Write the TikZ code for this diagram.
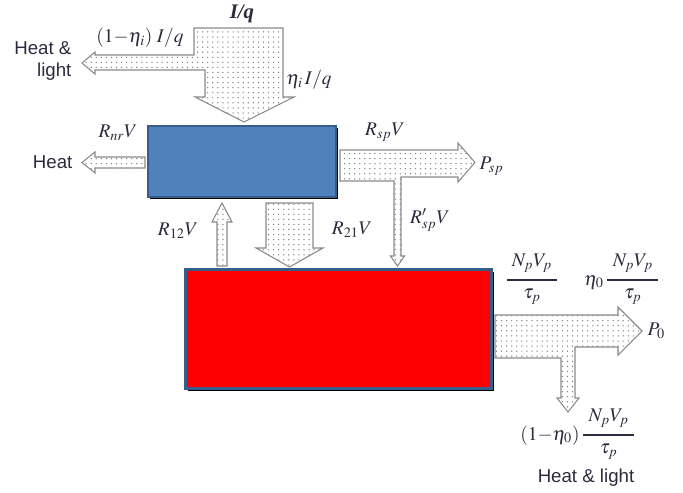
\documentclass[tikz,border=0pt]{standalone}
\usepackage{amsmath}
\usepackage{mathptmx}
\usepackage[no-math]{fontspec}
\setmainfont{Liberation Serif}
\setsansfont{Liberation Sans}
\usetikzlibrary{patterns.meta,shadows}
\definecolor{boxblue}{HTML}{4F81BD}
\definecolor{boxedge}{HTML}{385D8A}
\definecolor{txtcol}{HTML}{2B2B3F}
\definecolor{arrowedge}{HTML}{8A8A8A}
\newcommand{\npfrac}{\genfrac{}{}{1.7pt}{0}{\mkern5mu N_pV_p\mkern5mu}{\tau_p}}
\tikzset{
  lbl/.style={inner sep=1pt, text=txtcol, font=\fontsize{14.5}{16.5}\selectfont},
  sanslbl/.style={inner sep=1pt, text=txtcol, font=\sffamily\fontsize{14}{16.5}\selectfont},
  blockarrow/.style={draw=arrowedge, line width=0.8pt, line join=miter,
    pattern={Dots[radius=0.55pt, distance=3.8pt]}, pattern color=gray},
  bluebox/.style={draw=boxedge, line width=1.3pt, fill=boxblue, anchor=north west, inner sep=0pt,
    drop shadow={shadow xshift=1.8pt, shadow yshift=-1.8pt, opacity=1, fill=black}},
  redbox/.style={draw=boxedge, line width=2.2pt, fill=red, anchor=north west, inner sep=0pt,
    drop shadow={shadow xshift=1.8pt, shadow yshift=-1.8pt, opacity=1, fill=black}}
}
\begin{document}
\begin{tikzpicture}[x=0.75pt, y=-0.75pt]
\useasboundingbox (0,0) rectangle (683,493);
% boxes
\node[bluebox, minimum width=141pt, minimum height=53.25pt] (blue) at (147,125) {};
\node[redbox, minimum width=229.5pt, minimum height=89.25pt] (redb) at (184,268) {};
% block arrows
\draw[blockarrow] (194,28) -- (283,28) -- (283,97) -- (294,97) -- (244,122) -- (195,97) -- (205,97)
  -- (205,70) -- (95,70) -- (95,74) -- (82,63) -- (95,52) -- (95,55) -- (194,55) -- cycle;
\draw[blockarrow] (145,157) -- (95,157) -- (95,152) -- (82,162.5) -- (95,173) -- (95,168) -- (145,168) -- cycle;
\draw[blockarrow] (340,150) -- (458,150) -- (458,143) -- (475,162.5) -- (458,182) -- (458,177) -- (401,177)
  -- (401,256) -- (404.5,256) -- (397.5,266) -- (390.5,256) -- (394,256) -- (394,181) -- (340,181) -- cycle;
\draw[blockarrow] (217,266) -- (217,222) -- (212,222) -- (222,203) -- (232,222) -- (227,222) -- (227,266) -- cycle;
\draw[blockarrow] (266,203) -- (313,203) -- (313,248) -- (323,248) -- (289.5,267) -- (256,248) -- (266,248) -- cycle;
\draw[blockarrow] (495,315) -- (618,315) -- (618,307) -- (642,331) -- (618,355) -- (618,347) -- (575,347)
  -- (575,398) -- (579,398) -- (568,412) -- (557,398) -- (561,398) -- (561,358) -- (495,358) -- cycle;
% labels
\node[lbl] (iq) at (242,14) {\fontsize{15.5}{17}\selectfont\textbf{\textit{I/q}}};
\node[lbl] (loss) at (140,38) {$(1{-}\eta_i)\;I/q$};
\node[lbl] (etai) at (309,80) {$\eta_i\,I/q$};
\node[sanslbl, align=right, anchor=east] (hl1) at (73,61) {Heat \&\\light};
\node[sanslbl, anchor=east] (heat) at (74,162) {Heat};
\node[lbl] (rnr) at (118,133) {$R_{nr}V$};
\node[lbl] (rsp) at (385,132) {$R_{sp}V$};
\node[lbl, anchor=west] (psp) at (478,166) {$P_{sp}$};
\node[lbl] (rsp2) at (430,220) {$R'_{sp}V$};
\node[lbl] (r12) at (178,231) {$R_{12}V$};
\node[lbl] (r21) at (352,230) {$R_{21}V$};
\node[lbl] (f1) at (532,279) {$\npfrac$};
\node[lbl] (f2) at (622,279) {$\eta_0\,\npfrac$};
\node[lbl, anchor=west] (p0) at (646,331) {$P_0$};
\node[lbl] (f3) at (578,434) {$(1{-}\eta_0)\,\npfrac$};
\node[sanslbl] (hl2) at (586,478) {Heat \& light};
\end{tikzpicture}
\end{document}
